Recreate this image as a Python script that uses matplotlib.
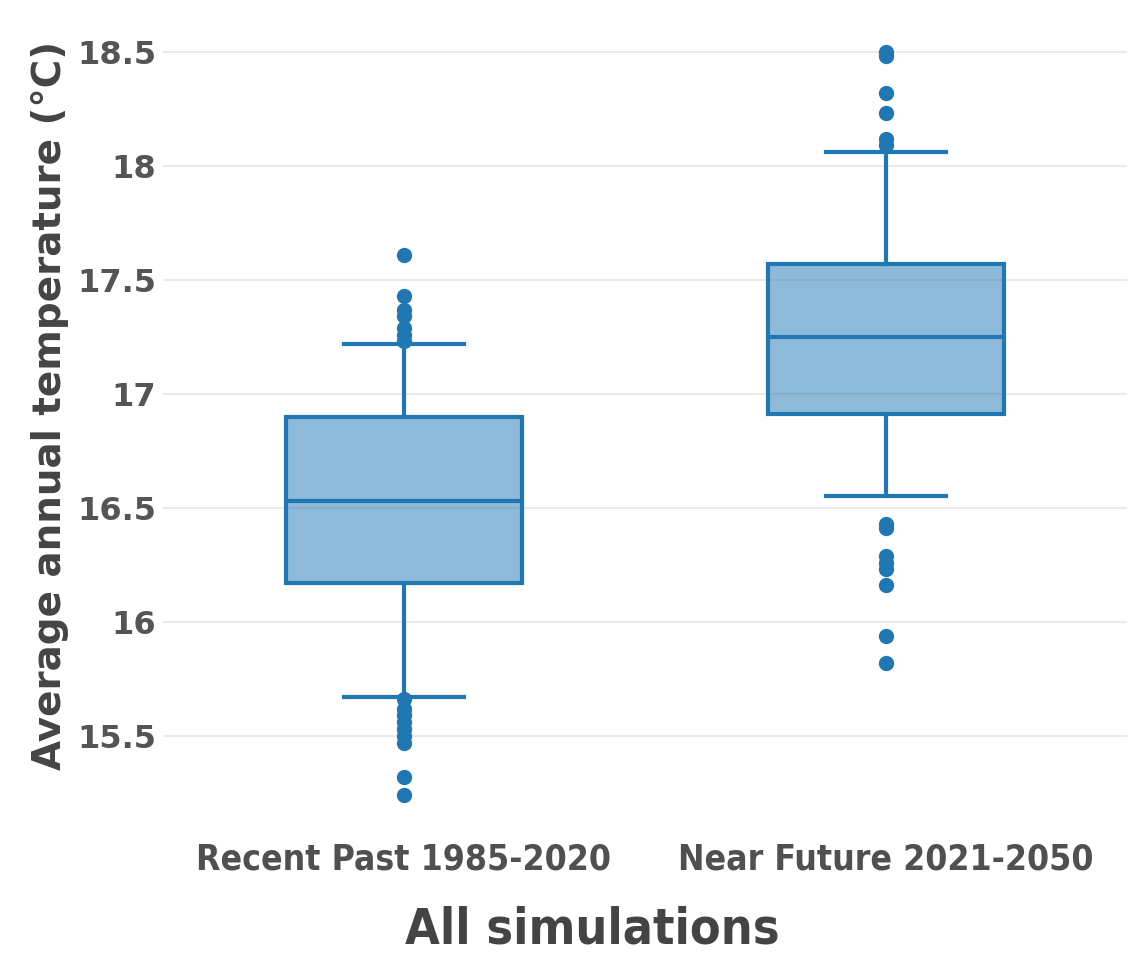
import matplotlib
matplotlib.use("Agg")
import matplotlib.pyplot as plt

# ---- data ----
categories = ["Recent Past 1985-2020", "Near Future 2021-2050"]
q1 = [16.17, 16.91]
median = [16.53, 17.25]
q3 = [16.90, 17.57]
whisker_low = [15.67, 16.55]
whisker_high = [17.22, 18.06]
outliers_past = [17.61, 17.43, 17.37, 17.34, 17.29, 17.26, 17.23,
                 15.66, 15.62, 15.59, 15.56, 15.53, 15.50, 15.47, 15.32, 15.24]
outliers_future = [18.50, 18.48, 18.32, 18.23, 18.12, 18.09,
                   16.43, 16.41, 16.29, 16.26, 16.23, 16.16, 15.94, 15.82]
yticks = [15.5, 16, 16.5, 17, 17.5, 18, 18.5]
ytick_labels = ["15.5", "16", "16.5", "17", "17.5", "18", "18.5"]

# ---- figure ----
W, H = 1138, 959
fig = plt.figure(figsize=(W / 100, H / 100), dpi=100)
ax = fig.add_axes([163 / W, 1 - 815 / H, (1127 - 163) / W, (815 - 30) / H])

line_color = "#1f77b4"
stats = []
for i, name in enumerate(categories):
    stats.append(dict(label=name, q1=q1[i], med=median[i], q3=q3[i],
                      whislo=whisker_low[i], whishi=whisker_high[i],
                      fliers=[outliers_past, outliers_future][i]))

ax.bxp(stats, positions=[0, 1], widths=0.49, patch_artist=True,
       boxprops=dict(facecolor=(31/255, 119/255, 180/255, 0.5), edgecolor=line_color, linewidth=3),
       medianprops=dict(color=line_color, linewidth=3),
       whiskerprops=dict(color=line_color, linewidth=3),
       capprops=dict(color=line_color, linewidth=3),
       flierprops=dict(marker="o", markerfacecolor=line_color, markeredgecolor=line_color,
                       markersize=10, linestyle="none"),
       capwidths=0.25, zorder=3)

ax.set_xlim(-0.5, 1.5)
ax.set_ylim(15.153, 18.596)
ax.set_yticks(yticks)
ax.set_yticklabels(ytick_labels)
ax.set_xticks([0, 1])
ax.set_xticklabels(categories)
ax.grid(axis="y", color="#e6e6e6", linewidth=1.2, zorder=0)
ax.set_axisbelow(True)
for s in ax.spines.values():
    s.set_visible(False)
ax.tick_params(axis="both", length=0)
ax.tick_params(axis="y", pad=5)
ax.tick_params(axis="x", pad=20)

for lbl in ax.get_yticklabels():
    lbl.set_fontfamily("DejaVu Sans")
    lbl.set_fontweight("bold")
    lbl.set_fontsize(23)
    lbl.set_color("#555555")
for lbl in ax.get_xticklabels():
    lbl.set_fontfamily("DejaVu Sans")
    lbl.set_fontstretch("condensed")
    lbl.set_fontweight("bold")
    lbl.set_fontsize(25.5)
    lbl.set_color("#505050")

fig.text(50 / W, 1 - 405 / H, "Average annual temperature (°C)", rotation=90,
         ha="center", va="center", fontsize=28, fontweight="bold",
         color="#444444", family="DejaVu Sans")
fig.text(592 / W, 1 - 930 / H, "All simulations", ha="center", va="center",
         fontsize=36, fontweight="bold", color="#444444", family="DejaVu Sans",
         fontstretch="condensed")

fig.savefig("out.png", dpi=100, facecolor="white")
